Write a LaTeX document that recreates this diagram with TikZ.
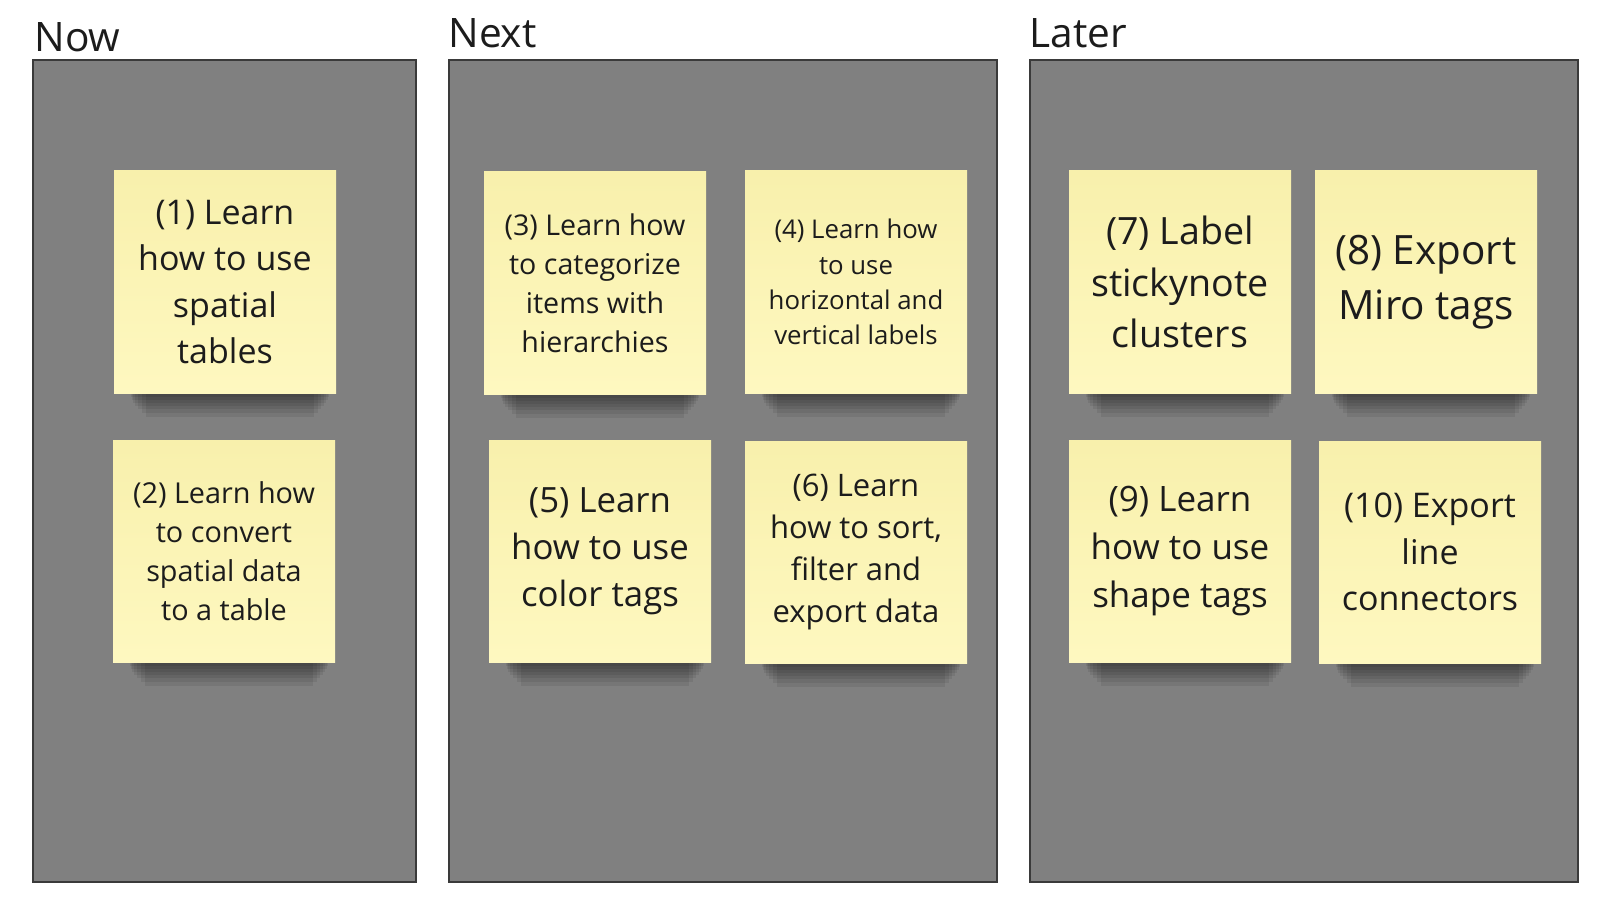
\documentclass[tikz,border=0pt]{standalone}
\usepackage{fontspec}
\setmainfont{Open Sans}

\definecolor{lanegray}{HTML}{808080}
\definecolor{laneline}{HTML}{3A3A3A}
\definecolor{stickytop}{HTML}{F8F0AC}
\definecolor{stickybot}{HTML}{FEF8C0}
\definecolor{ink}{HTML}{1C1C1C}

\pgfdeclarelayer{lanes}
\pgfdeclarelayer{shades}
\pgfsetlayers{lanes,shades,main}

\begin{document}
\begin{tikzpicture}[x=0.5pt,y=-0.5pt,
    lane/.style={draw=laneline,line width=0.7pt,fill=lanegray,inner sep=0pt,
      minimum height=411pt},
    lane title/.style={anchor=base west,inner sep=0pt,text=ink,
      font=\fontsize{20.3}{24}\selectfont},
    note shade/.style={fill=black,opacity=0.075}]
    \tikzstyle{sticky}=[inner sep=0pt,minimum width=111pt,minimum height=111pt,
      align=center,text=ink,top color=stickytop,bottom color=stickybot]

    \useasboundingbox (0,0) rectangle (1608,920);

    % lanes
    \begin{pgfonlayer}{lanes}
      \node [lane,minimum width=191.5pt] (now) at (224.5,471) {};
      \node [lane,minimum width=274pt] (next) at (723,471) {};
      \node [lane,minimum width=274pt] (later) at (1304,471) {};
    \end{pgfonlayer}

    \node [lane title] (nowtitle) at (34,51.7) {Now};
    \node [lane title] (nexttitle) at (448,47.7) {Next};
    \node [lane title] (latertitle) at (1029,47.7) {Later};

    % now
    \node [sticky,font=\fontsize{17}{23.2}\selectfont] (spatial) at (225,282) {
      (1) Learn\\how to use\\spatial\\tables};
    \node [sticky,font=\fontsize{14.4}{19.6}\selectfont] (convert) at (224,551) {
      (2) Learn how\\to convert\\spatial data\\to a table};

    % next
    \node [sticky,font=\fontsize{14.3}{19.5}\selectfont] (categorize) at (595,283) {
      (3) Learn how\\to categorize\\items with\\hierarchies};
    \node [sticky,font=\fontsize{12.9}{17.6}\selectfont] (labels) at (856,282) {
      (4) Learn how\\to use\\horizontal and\\vertical labels};
    \node [sticky,font=\fontsize{17.4}{23.6}\selectfont] (colortags) at (600,551) {
      (5) Learn\\how to use\\color tags};
    \node [sticky,font=\fontsize{15.5}{21.1}\selectfont] (sortdata) at (856,552) {
      (6) Learn\\how to sort,\\filter and\\export data};

    % later
    \node [sticky,font=\fontsize{18.8}{25.7}\selectfont] (clusters) at (1180,282) {
      (7) Label\\stickynote\\clusters};
    \node [sticky,font=\fontsize{20.2}{27.5}\selectfont] (mirotags) at (1426,282) {
      (8) Export\\Miro tags};
    \node [sticky,font=\fontsize{17.5}{23.9}\selectfont] (shapetags) at (1180,551) {
      (9) Learn\\how to use\\shape tags};
    \node [sticky,font=\fontsize{17}{23.2}\selectfont] (connectors) at (1430,552) {
      (10) Export\\line\\connectors};

    % shadows under the notes
    \begin{pgfonlayer}{shades}
      \foreach \n in {spatial,convert,categorize,labels,colortags,sortdata,
          clusters,mirotags,shapetags,connectors}
        \foreach \d/\l/\r in {12/16/11,10/14/9,8/12/7.5,6.5/10.5/6,5/9.5/5,3.5/9/4,2/8.5/3.5}
          \fill [note shade] ([xshift=\l pt]\n.south west) rectangle ([xshift=-\r pt,yshift=-\d pt]\n.south east);
    \end{pgfonlayer}
  \end{tikzpicture}
\end{document}
